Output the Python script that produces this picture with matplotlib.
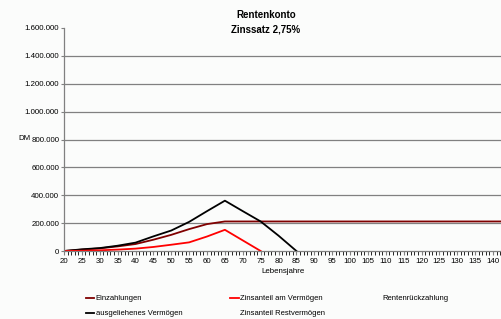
import matplotlib.pyplot as plt
import numpy as np

plt.rcParams['font.family'] = ['Liberation Sans', 'DejaVu Sans']

# values (DM)
years_up = [20, 25, 30, 35, 40, 45, 50, 55, 60, 65]
einzahlungen = [0, 10000, 19000, 33000, 50000, 81000, 116000, 157000, 193000, 212000]
ausgeliehen = [0, 12000, 21000, 38000, 60000, 105000, 147000, 209000, 286000, 361000]
zinsanteil = [0, 2000, 5000, 10000, 17000, 29000, 45000, 62000, 104000, 152000]

years_flat = [65, 142]
einzahlungen_flat = [212000, 212000]

years_down = [65, 70, 75, 80, 85]
ausgeliehen_down = [361000, 286000, 212000, 110000, 0]
years_zins_down = [65, 70, 75]
zinsanteil_down = [152000, 76000, 0]

bg = '#fbfcfb'
fig = plt.figure(figsize=(5.02, 3.19), dpi=100, facecolor=bg)
ax = fig.add_axes([64/502, 68/319, 438/502, 223/319], facecolor=bg)

lw = 1.3
l1, = ax.plot(years_up + years_flat[1:], einzahlungen + einzahlungen_flat[1:],
              color='#800000', lw=lw, label='Einzahlungen')
l2, = ax.plot(years_up + years_down[1:], ausgeliehen + ausgeliehen_down[1:],
              color='black', lw=lw, label='ausgeliehenes Vermögen')
l3, = ax.plot(years_up + years_zins_down[1:], zinsanteil + zinsanteil_down[1:],
              color='#ff0000', lw=lw, label='Zinsanteil am Vermögen')
l4, = ax.plot([], [], color=bg, lw=lw, label='Zinsanteil Restvermögen')
l5, = ax.plot([], [], color=bg, lw=lw, label='Rentenrückzahlung')

ax.set_xlim(20, 142.5)
ax.set_ylim(0, 1600000)
ax.set_yticks(np.arange(0, 1600001, 200000))
ax.set_yticklabels([f'{v:,}'.replace(',', '.') for v in range(0, 1600001, 200000)])
ax.set_xticks(np.arange(20, 141, 5))
ax.set_xticks(np.arange(20, 143, 1), minor=True)
ax.tick_params(axis='both', labelsize=5.7, width=0.8, color='#808080')
ax.tick_params(axis='y', length=2, pad=1.5)
ax.tick_params(axis='x', which='both', length=3, pad=2)

ax.yaxis.grid(True, color='#808080', lw=0.9)
ax.set_axisbelow(True)
ax.get_ygridlines()[-1].set_visible(False)
ax.get_ygridlines()[0].set_visible(False)
for s in ['top', 'right']:
    ax.spines[s].set_visible(False)
for s in ['left', 'bottom']:
    ax.spines[s].set_color('#808080')
    ax.spines[s].set_linewidth(0.9)

ax.set_xlabel('Lebensjahre', fontsize=5.7, labelpad=2)
fig.text(24/502, 1 - 139/319, 'DM', fontsize=5.7, ha='center', va='center')

fig.text(266/502, 1 - 15/319, 'Rentenkonto', fontsize=7, fontweight='bold', ha='center', va='center')
fig.text(266/502, 1 - 30/319, 'Zinssatz 2,75%', fontsize=7, fontweight='bold', ha='center', va='center')

fig.legend(handles=[l1, l2, l3, l4, l5], ncol=3, loc='upper left',
           bbox_to_anchor=(86/502, 1 - 295/319), frameon=False, fontsize=5.5,
           handlelength=1.1, handletextpad=0.15, columnspacing=6.3, labelspacing=1.0,
           borderaxespad=0, borderpad=0)

fig.savefig('out.png', dpi=100, facecolor=bg)
